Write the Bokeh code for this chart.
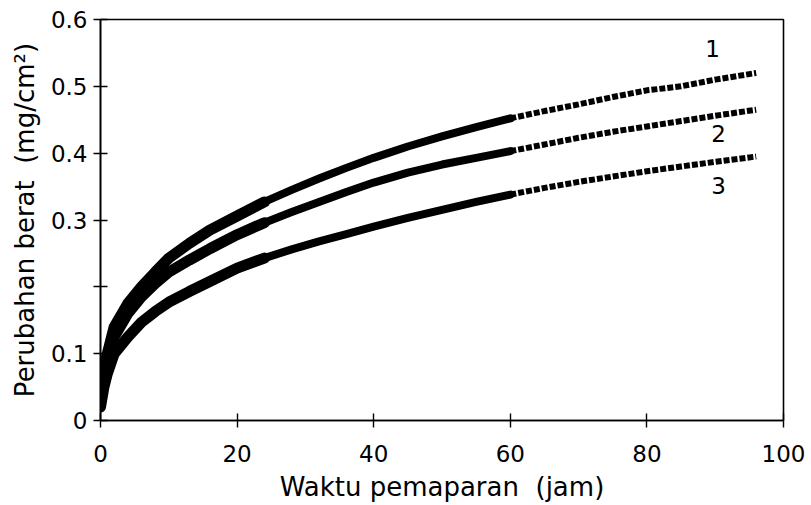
from bokeh.plotting import figure
from bokeh.models import FixedTicker, Range1d, Label
from bokeh.embed import file_html
from bokeh.resources import INLINE

# time (jam)
hours = [0, 0.5, 1, 2, 4, 6, 8, 10, 13, 16, 20, 24, 28, 32, 36, 40, 45, 50,
         55, 60, 65, 70, 75, 80, 85, 90, 96]
# weight change (mg/cm2)
curve1 = [0.03, 0.08, 0.10, 0.14, 0.175, 0.20, 0.222, 0.243, 0.265, 0.285, 0.306,
          0.327, 0.345, 0.362, 0.378, 0.393, 0.41, 0.425, 0.439, 0.452, 0.463,
          0.473, 0.484, 0.494, 0.50, 0.51, 0.52]
curve2 = [0.03, 0.07, 0.09, 0.125, 0.16, 0.185, 0.205, 0.222, 0.24, 0.257, 0.278,
          0.296, 0.312, 0.327, 0.342, 0.356, 0.371, 0.383, 0.393, 0.403, 0.413,
          0.423, 0.432, 0.44, 0.448, 0.456, 0.465]
curve3 = [0.02, 0.05, 0.07, 0.10, 0.125, 0.147, 0.163, 0.177, 0.193, 0.208, 0.228,
          0.243, 0.256, 0.268, 0.279, 0.29, 0.303, 0.315, 0.327, 0.338, 0.348,
          0.357, 0.365, 0.373, 0.38, 0.387, 0.395]
series_names = ["1", "2", "3"]

x_ticks = [0, 20, 40, 60, 80, 100]
y_ticks = [0, 0.1, 0.2, 0.3, 0.4, 0.5, 0.6]
y_tick_labels = ["0", "0.1", "", "0.3", "0.4", "0.5", "0.6"]

FONT = "DejaVu Sans"

p = figure(width=811, height=505, output_backend="svg", toolbar_location=None,
           x_range=Range1d(0, 100), y_range=Range1d(0, 0.6),
           min_border_left=100, min_border_right=28, min_border_top=19,
           min_border_bottom=85)
p.background_fill_color = "white"
p.border_fill_color = "white"
p.outline_line_color = "black"
p.outline_line_width = 1.6
p.grid.visible = False

for ys in (curve1, curve2, curve3):
    p.line(hours[:12], ys[:12], line_color="black", line_width=11,
           line_join="round", line_cap="round")
    p.line(hours[11:20], ys[11:20], line_color="black", line_width=8,
           line_join="round", line_cap="round")
    p.line(hours[19:], ys[19:], line_color="black", line_width=6, line_dash="6 2")

p.xaxis.ticker = FixedTicker(ticks=x_ticks)
p.yaxis.ticker = FixedTicker(ticks=y_ticks)
p.yaxis.major_label_overrides = {t: l for t, l in zip(y_ticks, y_tick_labels)}

for ax in (p.xaxis[0], p.yaxis[0]):
    ax.axis_line_color = "black"
    ax.axis_line_width = 1.6
    ax.major_tick_line_color = "black"
    ax.major_tick_line_width = 1.4
    ax.major_tick_in = 7
    ax.major_tick_out = 7
    ax.minor_tick_line_color = None
    ax.major_label_text_font = FONT
    ax.major_label_text_font_size = "23px"
    ax.major_label_text_color = "black"
    ax.axis_label_text_font = FONT
    ax.axis_label_text_font_size = "26px"
    ax.axis_label_text_font_style = "normal"
    ax.axis_label_text_color = "black"

p.xaxis.axis_label = "Waktu pemaparan\u00a0\u00a0(jam)"
p.yaxis.axis_label = "Perubahan berat\u00a0\u00a0(mg/cm²)"
p.xaxis.major_label_standoff = 17
p.xaxis.axis_label_standoff = 7
p.yaxis.major_label_standoff = 6
p.yaxis.axis_label_standoff = 8

label_pos = [(89.6, 0.557), (90.5, 0.43), (90.5, 0.352)]
for name, (lx, ly) in zip(series_names, label_pos):
    p.add_layout(Label(x=lx, y=ly, text=name, text_font=FONT, text_font_size="23px",
                       text_color="black", text_align="center", text_baseline="middle"))

open("out.html", "w").write(file_html(p, INLINE))
